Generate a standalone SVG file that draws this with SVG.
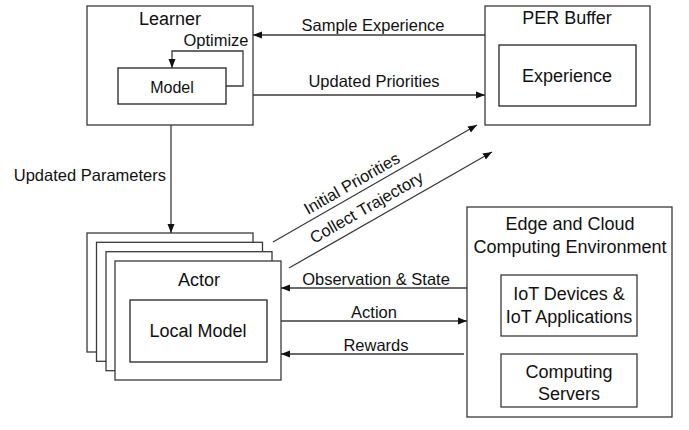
<svg xmlns="http://www.w3.org/2000/svg" width="689" height="430" viewBox="0 0 689 430">
<style>
.box{fill:#fff;stroke:#3a3a3a;stroke-width:1.3}
.inner{fill:#fff;stroke:#111;stroke-width:1.2}
.t18{font-family:"Liberation Sans",Arial,sans-serif;font-size:18px;fill:#111;text-anchor:middle}
.t16{font-family:"Liberation Sans",Arial,sans-serif;font-size:16.5px;fill:#111;text-anchor:middle}
.ln{fill:none;stroke:#3a3a3a;stroke-width:1.3}
</style>
<defs>
<marker id="ah" markerUnits="userSpaceOnUse" markerWidth="10" markerHeight="10" viewBox="0 0 10 10" refX="9" refY="5" orient="auto">
<path d="M0,1.5 L9,5 L0,8.5 Z" fill="#111"/>
</marker>
</defs>
<rect width="689" height="430" fill="#fff"/>
<g id="learner">
<rect class="box" x="87" y="6" width="166" height="119"/>
<text class="t18" x="170" y="25">Learner</text>
<rect class="inner" x="118" y="68" width="108" height="36"/>
<text class="t16" x="172" y="93" style="font-size:16px">Model</text>
<text class="t16" x="216" y="46">Optimize</text>
</g>
<g id="per-buffer">
<rect class="box" x="485" y="6" width="165" height="119"/>
<text class="t18" x="567" y="24">PER Buffer</text>
<rect class="inner" x="499" y="45" width="137" height="61"/>
<text class="t18" x="567" y="82">Experience</text>
</g>
<g id="actor">
<rect class="box" x="87" y="233" width="166" height="119"/>
<rect class="box" x="96.5" y="242.3" width="166" height="119"/>
<rect class="box" x="106" y="251.7" width="166" height="119"/>
<rect class="box" x="115" y="261" width="166" height="119"/>
<text class="t18" x="199" y="286">Actor</text>
<rect class="inner" x="130" y="300" width="137" height="62"/>
<text class="t18" x="198" y="337">Local Model</text>
</g>
<g id="environment">
<rect class="box" x="467" y="207" width="205" height="210"/>
<text class="t18" x="570" y="230">Edge and Cloud</text>
<text class="t18" x="570" y="253">Computing Environment</text>
<rect class="box" x="501" y="275" width="136" height="61"/>
<text class="t18" x="569" y="300">IoT Devices &amp;</text>
<text class="t18" x="569" y="323">IoT Applications</text>
<rect class="box" x="501" y="354" width="136" height="53"/>
<text class="t18" x="569" y="378">Computing</text>
<text class="t18" x="569" y="400">Servers</text>
</g>
<g id="connectors">
<path class="ln" d="M226,86 H243 V51 H172 V68" marker-end="url(#ah)"/>
<line class="ln" x1="485" y1="35" x2="253" y2="35" marker-end="url(#ah)"/>
<text class="t16" x="373" y="31">Sample Experience</text>
<line class="ln" x1="253" y1="95" x2="485" y2="95" marker-end="url(#ah)"/>
<text class="t16" x="374" y="87">Updated Priorities</text>
<line class="ln" x1="171" y1="125" x2="171" y2="233" marker-end="url(#ah)"/>
<text class="t16" x="166" y="181" style="text-anchor:end">Updated Parameters</text>
<line class="ln" x1="273" y1="242" x2="477" y2="125" marker-end="url(#ah)"/>
<text class="t16" x="308" y="215" style="text-anchor:start" transform="rotate(-29.8 308 215)">Initial Priorities</text>
<line class="ln" x1="289" y1="268" x2="492" y2="152" marker-end="url(#ah)"/>
<text class="t16" x="314" y="244" style="text-anchor:start" transform="rotate(-29.8 314 244)">Collect Trajectory</text>
<line class="ln" x1="467" y1="288" x2="281" y2="288" marker-end="url(#ah)"/>
<text class="t16" x="376" y="285">Observation &amp; State</text>
<line class="ln" x1="281" y1="321" x2="467" y2="321" marker-end="url(#ah)"/>
<text class="t16" x="374" y="318">Action</text>
<line class="ln" x1="464" y1="354" x2="281" y2="354" marker-end="url(#ah)"/>
<text class="t16" x="376" y="351">Rewards</text>
</g>
</svg>
